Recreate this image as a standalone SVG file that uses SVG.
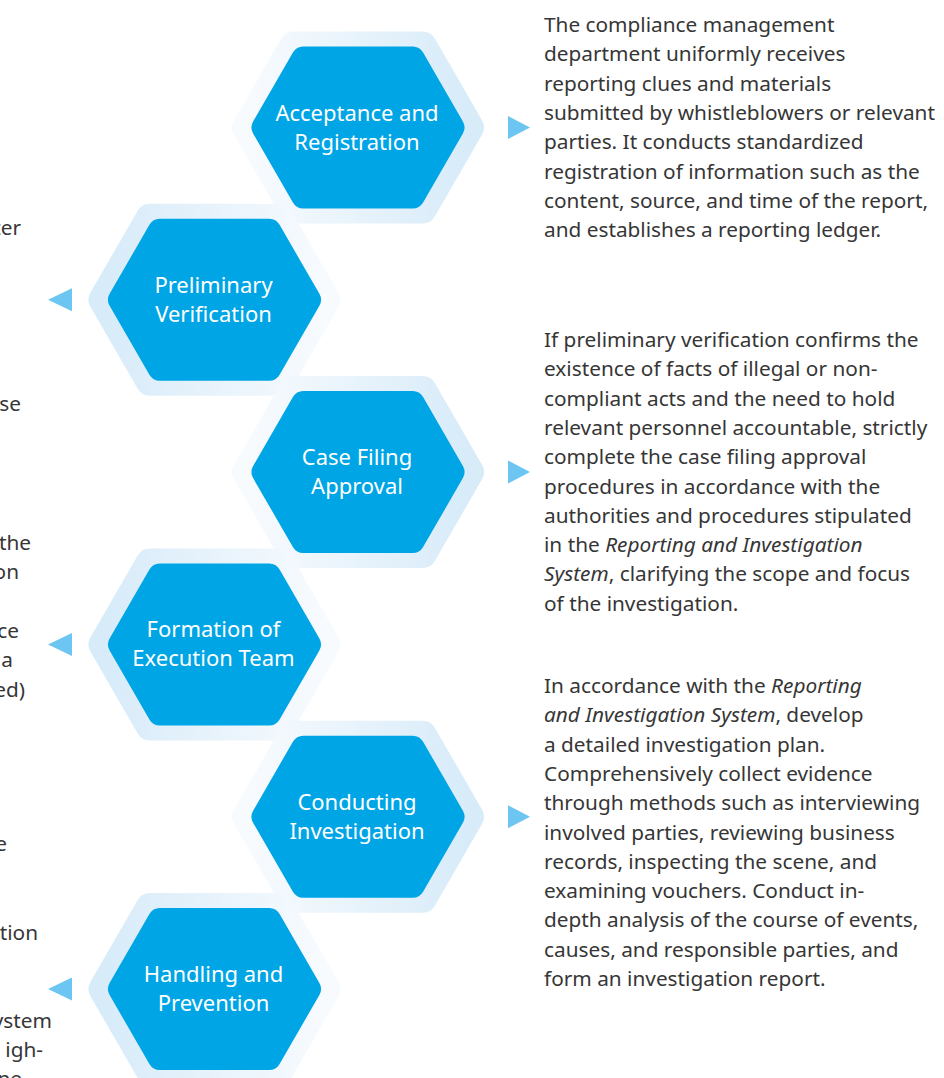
<svg xmlns="http://www.w3.org/2000/svg" xmlns:xlink="http://www.w3.org/1999/xlink" width="944" height="1078" viewBox="0 0 944 1078">
<style>
  .halo-r { fill: url(#gR); stroke: url(#gR); stroke-width: 28; stroke-linejoin: round; }
  .halo-l { fill: url(#gL); stroke: url(#gL); stroke-width: 28; stroke-linejoin: round; }
  .core { fill: #00a5e5; stroke: #00a5e5; stroke-width: 24; stroke-linejoin: round; }
  .label { font-family: "Noto Sans", "Open Sans", sans-serif; font-size: 22px; fill: #ffffff; text-anchor: middle; }
  .desc { font-family: "Noto Sans", "Open Sans", sans-serif; font-size: 20.8px; fill: #363636; }
  .frag { font-family: "Noto Sans", "Open Sans", sans-serif; font-size: 20.8px; fill: #363636; text-anchor: end; }
  .it { font-style: italic; }
  .arrow { fill: #6cc6f1; }
</style>
<defs>
  <linearGradient id="gR" x1="0" y1="0" x2="1" y2="0">
    <stop offset="0" stop-color="#f8fbfe"/>
    <stop offset="1" stop-color="#d7ebf9"/>
  </linearGradient>
  <linearGradient id="gL" x1="0" y1="0" x2="1" y2="0">
    <stop offset="0" stop-color="#d7ebf9"/>
    <stop offset="1" stop-color="#f8fbfe"/>
  </linearGradient>
  <polygon id="hexOuter" points="-112,0 -64.7,-82 64.7,-82 112,0 64.7,82 -64.7,82"/>
  <polygon id="hexInner" points="-94.5,0 -54.7,-69 54.7,-69 94.5,0 54.7,69 -54.7,69"/>
</defs>
<rect width="944" height="1078" fill="#ffffff"/>

<g id="node-acceptance">
  <use xlink:href="#hexOuter" href="#hexOuter" class="halo-r" x="358" y="127.5"/>
  <use xlink:href="#hexInner" href="#hexInner" class="core" x="358" y="127.5"/>
  <text class="label" x="357" y="120.5">Acceptance and</text>
  <text class="label" x="357" y="149.5">Registration</text>
</g>
<g id="node-preliminary">
  <use xlink:href="#hexOuter" href="#hexOuter" class="halo-l" x="214.5" y="299.8"/>
  <use xlink:href="#hexInner" href="#hexInner" class="core" x="214.5" y="299.8"/>
  <text class="label" x="213.5" y="292.8">Preliminary</text>
  <text class="label" x="213.5" y="321.8">Verification</text>
</g>
<g id="node-case-filing">
  <use xlink:href="#hexOuter" href="#hexOuter" class="halo-r" x="358" y="472.1"/>
  <use xlink:href="#hexInner" href="#hexInner" class="core" x="358" y="472.1"/>
  <text class="label" x="357" y="465.1">Case Filing</text>
  <text class="label" x="357" y="494.1">Approval</text>
</g>
<g id="node-formation">
  <use xlink:href="#hexOuter" href="#hexOuter" class="halo-l" x="214.5" y="644.4"/>
  <use xlink:href="#hexInner" href="#hexInner" class="core" x="214.5" y="644.4"/>
  <text class="label" x="213.5" y="637.4">Formation of</text>
  <text class="label" x="213.5" y="666.4">Execution Team</text>
</g>
<g id="node-conducting">
  <use xlink:href="#hexOuter" href="#hexOuter" class="halo-r" x="358" y="816.7"/>
  <use xlink:href="#hexInner" href="#hexInner" class="core" x="358" y="816.7"/>
  <text class="label" x="357" y="809.7">Conducting</text>
  <text class="label" x="357" y="838.7">Investigation</text>
</g>
<g id="node-handling">
  <use xlink:href="#hexOuter" href="#hexOuter" class="halo-l" x="214.5" y="989"/>
  <use xlink:href="#hexInner" href="#hexInner" class="core" x="214.5" y="989"/>
  <text class="label" x="213.5" y="982">Handling and</text>
  <text class="label" x="213.5" y="1011">Prevention</text>
</g>

<g id="connectors">
  <polygon class="arrow" points="508,116 530,127.5 508,139"/>
  <polygon class="arrow" points="72,288.3 48,299.8 72,311.3"/>
  <polygon class="arrow" points="508,460.6 530,472.1 508,483.6"/>
  <polygon class="arrow" points="72,632.9 48,644.4 72,655.9"/>
  <polygon class="arrow" points="508,805.2 530,816.7 508,828.2"/>
  <polygon class="arrow" points="72,977.5 48,989 72,1000.5"/>
</g>

<g id="desc-acceptance" class="desc">
  <text x="544" y="32">The compliance management</text>
  <text x="544" y="61.3">department uniformly receives</text>
  <text x="544" y="90.6">reporting clues and materials</text>
  <text x="544" y="119.9">submitted by whistleblowers or relevant</text>
  <text x="544" y="149.2">parties. It conducts standardized</text>
  <text x="544" y="178.5">registration of information such as the</text>
  <text x="544" y="207.8">content, source, and time of the report,</text>
  <text x="544" y="237.1">and establishes a reporting ledger.</text>
</g>

<g id="desc-case-filing" class="desc">
  <text x="544" y="347">If preliminary verification confirms the</text>
  <text x="544" y="376.3">existence of facts of illegal or non-</text>
  <text x="544" y="405.6">compliant acts and the need to hold</text>
  <text x="544" y="434.9">relevant personnel accountable, strictly</text>
  <text x="544" y="464.2">complete the case filing approval</text>
  <text x="544" y="493.5">procedures in accordance with the</text>
  <text x="544" y="522.8">authorities and procedures stipulated</text>
  <text x="544" y="552.1">in the <tspan class="it">Reporting and Investigation</tspan></text>
  <text x="544" y="581.4"><tspan class="it">System</tspan>, clarifying the scope and focus</text>
  <text x="544" y="610.7">of the investigation.</text>
</g>

<g id="desc-conducting" class="desc">
  <text x="544" y="693">In accordance with the <tspan class="it">Reporting</tspan></text>
  <text x="544" y="722.3"><tspan class="it">and Investigation System</tspan>, develop</text>
  <text x="544" y="751.6">a detailed investigation plan.</text>
  <text x="544" y="780.9">Comprehensively collect evidence</text>
  <text x="544" y="810.2">through methods such as interviewing</text>
  <text x="544" y="839.5">involved parties, reviewing business</text>
  <text x="544" y="868.8">records, inspecting the scene, and</text>
  <text x="544" y="898.1">examining vouchers. Conduct in-</text>
  <text x="544" y="927.4">depth analysis of the course of events,</text>
  <text x="544" y="956.7">causes, and responsible parties, and</text>
  <text x="544" y="986">form an investigation report.</text>
</g>

<g id="desc-left-fragments" class="frag">
  <text x="21" y="235">ter</text>
  <text x="21" y="411">se</text>
  <text x="31" y="550">the</text>
  <text x="19" y="579">on</text>
  <text x="19" y="638">ce</text>
  <text x="13" y="667">a</text>
  <text x="25" y="697">ed)</text>
  <text x="7" y="851">e</text>
  <text x="38" y="940">tion</text>
  <text x="52" y="1028">ystem</text>
  <text x="43" y="1057">igh-</text>
  <text x="22" y="1086">ne</text>
</g>
</svg>
